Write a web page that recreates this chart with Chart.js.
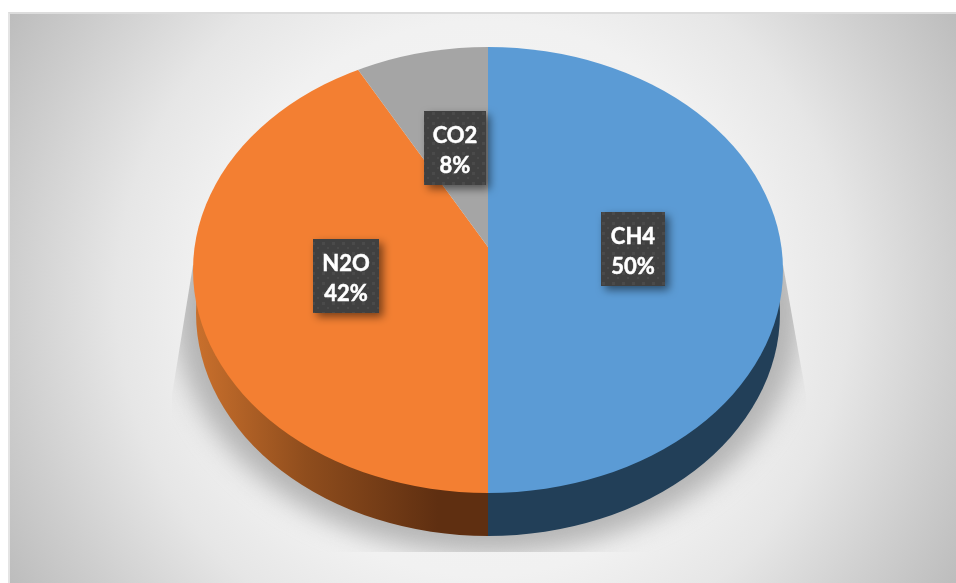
<!DOCTYPE html>
<html>
<head>
<meta charset="utf-8">
<style>
  html, body { margin: 0; padding: 0; background: #fff; overflow: hidden; }
  #frame {
    position: absolute; left: 8px; top: 12px; width: 948px; height: 571px;
    border-top: 2px solid #dcdcdc; border-left: 2px solid #e4e4e4; box-sizing: border-box;
    background: radial-gradient(circle 555px at 50% 50%, #f6f6f6 0%, #f1f1f1 50%, #e6e6e6 66%, #cecece 85%, #bcbcbc 100%);
  }
  #chart { position: absolute; left: 0; top: 0; }
</style>
</head>
<body>
<div id="frame"></div>
<canvas id="chart" width="956" height="583"></canvas>
<script src="https://cdn.jsdelivr.net/npm/chart.js@4"></script>
<script>
const categories = ['CH4', 'CO2', 'N2O'];
const seriesValues = [50, 8, 42];
const sliceColors = ['#5b9bd5', '#a5a5a5', '#f37f32'];

// top surface outline, relative to the wedge apex (the pie is drawn in perspective)
const ELLIPSE = { dy: 23, rx: 295, ry: 223 };
const DEPTH = 43;
const APEX_SCALE = { x: 1.6, y: 1.2 };

// label box top-left corners, same order as categories
const labelBoxes = [
  { x: 601, y: 212, w: 64, h: 74 },
  { x: 424, y: 111, w: 62, h: 74 },
  { x: 313, y: 239, w: 66, h: 74 }
];

function dotPattern(ctx) {
  const tile = document.createElement('canvas');
  tile.width = 10;
  tile.height = 10;
  const t = tile.getContext('2d');
  t.fillStyle = '#404040';
  t.fillRect(0, 0, 10, 10);
  t.fillStyle = '#4a4a4a';
  t.fillRect(2, 2, 3, 3);
  t.fillRect(7, 7, 2, 2);
  return ctx.createPattern(tile, 'repeat');
}

const piePerspective = {
  id: 'piePerspective',
  beforeDatasetsDraw(chart) {
    const ctx = chart.ctx;
    const arc = chart.getDatasetMeta(0).data[0];
    const cx = arc.x;
    const cy = arc.y + ELLIPSE.dy;

    // soft floor shadow, cut off at the plot box
    ctx.save();
    ctx.beginPath();
    ctx.moveTo(cx - 295, cy - 5);
    ctx.lineTo(cx - 316, cy + 125);
    ctx.lineTo(cx - 316, 552);
    ctx.lineTo(cx + 318, 552);
    ctx.lineTo(cx + 318, cy + 125);
    ctx.lineTo(cx + 295, cy - 5);
    ctx.closePath();
    ctx.clip();
    ctx.filter = 'blur(13px)';
    ctx.fillStyle = '#b4b4b4';
    ctx.beginPath();
    ctx.ellipse(cx, cy + DEPTH, ELLIPSE.rx + 18, ELLIPSE.ry + 18, 0, 0, Math.PI * 2);
    ctx.fill();
    ctx.restore();

    // side wall: left half orange, right half blue
    const wall = ctx.createLinearGradient(cx - 290, 0, cx - 50, 0);
    wall.addColorStop(0, '#c86f2c');
    wall.addColorStop(0.45, '#8f4d1d');
    wall.addColorStop(1, '#5f2f11');
    [[cx - ELLIPSE.rx - 2, ELLIPSE.rx + 2, wall], [cx, ELLIPSE.rx + 2, '#223f58']].forEach(side => {
      ctx.save();
      ctx.beginPath();
      ctx.rect(side[0], cy, side[1], ELLIPSE.ry + DEPTH + 4);
      ctx.clip();
      ctx.fillStyle = side[2];
      ctx.beginPath();
      ctx.ellipse(cx, cy + DEPTH, ELLIPSE.rx - 3, ELLIPSE.ry, 0, 0, Math.PI * 2);
      ctx.fill();
      ctx.restore();
    });
  },
  beforeDatasetDraw(chart) {
    const ctx = chart.ctx;
    const arc = chart.getDatasetMeta(0).data[0];
    ctx.save();
    ctx.beginPath();
    ctx.ellipse(arc.x, arc.y + ELLIPSE.dy, ELLIPSE.rx, ELLIPSE.ry, 0, 0, Math.PI * 2);
    ctx.clip();
    ctx.translate(arc.x, arc.y);
    ctx.scale(APEX_SCALE.x, APEX_SCALE.y);
    ctx.translate(-arc.x, -arc.y);
  },
  afterDatasetDraw(chart) {
    chart.ctx.restore();
  },
  afterDatasetsDraw(chart) {
    const ctx = chart.ctx;
    const pattern = dotPattern(ctx);
    categories.forEach((name, i) => {
      const b = labelBoxes[i];
      ctx.save();
      ctx.shadowColor = 'rgba(0,0,0,0.5)';
      ctx.shadowBlur = 8;
      ctx.shadowOffsetX = 4;
      ctx.shadowOffsetY = 4;
      ctx.fillStyle = pattern;
      ctx.fillRect(b.x, b.y, b.w, b.h);
      ctx.restore();

      ctx.save();
      ctx.fillStyle = '#fff';
      ctx.strokeStyle = '#fff';
      ctx.lineWidth = 0.5;
      ctx.font = 'bold 22px Lato, "Open Sans", sans-serif';
      ctx.textAlign = 'center';
      ctx.textBaseline = 'middle';
      [name, seriesValues[i] + '%'].forEach((line, n) => {
        ctx.fillText(line, b.x + b.w / 2, b.y + 25 + n * 30);
        ctx.strokeText(line, b.x + b.w / 2, b.y + 25 + n * 30);
      });
      ctx.restore();
    });
  }
};

new Chart(document.getElementById('chart'), {
  type: 'pie',
  data: {
    labels: categories,
    datasets: [{
      data: seriesValues.slice(0, 1).concat(seriesValues[2], seriesValues[1]),
      backgroundColor: [sliceColors[0], sliceColors[2], sliceColors[1]],
      borderWidth: 0,
      clip: false
    }]
  },
  options: {
    responsive: false,
    animation: false,
    layout: { padding: { left: 242, right: 222, top: 1, bottom: 90 } },
    plugins: { legend: { display: false }, tooltip: { enabled: false } }
  },
  plugins: [piePerspective]
});
</script>
</body>
</html>
